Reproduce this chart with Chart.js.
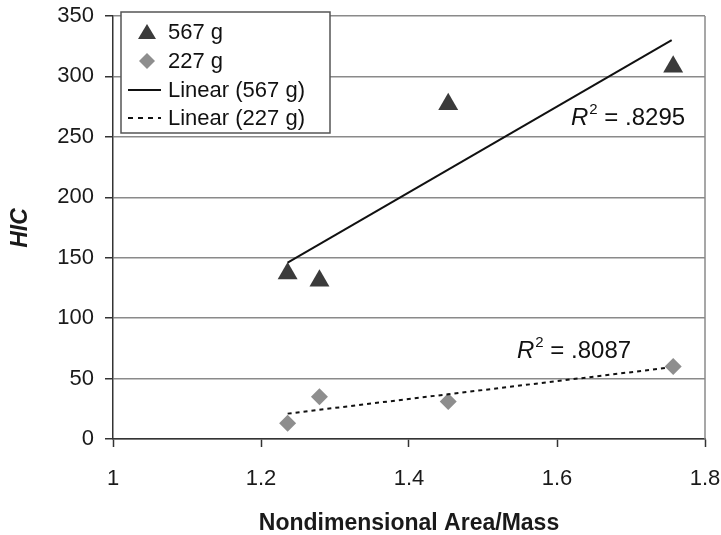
<!DOCTYPE html>
<html>
<head>
<meta charset="utf-8">
<script src="https://cdn.jsdelivr.net/npm/chart.js@4.4.1/dist/chart.umd.min.js"></script>
<style>
  html, body { margin: 0; padding: 0; background: #fff; }
  #wrap { width: 721px; height: 535px; }
</style>
</head>
<body>
<div id="wrap"><canvas id="hicChart" width="721" height="535"></canvas></div>
<script>
'use strict';

// ─── Data ─────────────────────────────────────────────────────────────────────
const X_567   = [1.236, 1.279, 1.453, 1.757];
const HIC_567 = [137, 131, 277, 308];
const X_227   = [1.236, 1.279, 1.453, 1.757];
const HIC_227 = [13, 35, 31, 60];

// trendline end points
const TREND_567_X = [1.236, 1.755];
const TREND_567_Y = [146, 330];
const TREND_227_X = [1.236, 1.750];
const TREND_227_Y = [21, 59];

const R2_567 = '.8295';
const R2_227 = '.8087';

const X_TICKS = [1, 1.2, 1.4, 1.6, 1.8];
const Y_TICKS = [0, 50, 100, 150, 200, 250, 300, 350];

const LEGEND_LABELS = ['567 g', '227 g', 'Linear (567 g)', 'Linear (227 g)'];

// ─── Styles ───────────────────────────────────────────────────────────────────
const FONT  = "'Liberation Sans', Arial, sans-serif";
const DARK  = '#3b3b3b';
const LIGHT = '#8e8e8e';
const GRID  = '#8a8a8a';
const AXIS  = '#333333';

const pts = (xs, ys) => xs.map((x, i) => ({ x, y: ys[i] }));

// no label overflow padding: the plot box is fixed by layout.padding
function noPad(s) {
  s.paddingLeft = 0;
  s.paddingRight = 0;
  s.paddingTop = 0;
  s.paddingBottom = 0;
}

// ─── Overlay: border, legend, R² labels, axis titles ──────────────────────────
const overlay = {
  id: 'overlay',
  afterDraw(chart) {
    const { ctx, chartArea: a } = chart;
    ctx.save();

    // right border
    ctx.strokeStyle = GRID;
    ctx.lineWidth = 1.5;
    ctx.beginPath();
    ctx.moveTo(a.right, a.top);
    ctx.lineTo(a.right, a.bottom);
    ctx.stroke();

    // legend box
    ctx.fillStyle = '#fff';
    ctx.fillRect(121, 12, 209, 121);
    ctx.strokeStyle = '#555';
    ctx.lineWidth = 1.5;
    ctx.strokeRect(121, 12, 209, 121);

    const rows = [32, 61, 90, 118];
    ctx.font = '22px ' + FONT;
    ctx.textBaseline = 'middle';
    ctx.textAlign = 'left';
    LEGEND_LABELS.forEach((label, i) => {
      const y = rows[i];
      if (i === 0) {
        ctx.fillStyle = DARK;
        ctx.beginPath();
        ctx.moveTo(147, y - 8); ctx.lineTo(156, y + 7); ctx.lineTo(138, y + 7);
        ctx.closePath(); ctx.fill();
      } else if (i === 1) {
        ctx.fillStyle = LIGHT;
        ctx.beginPath();
        ctx.moveTo(147, y - 8); ctx.lineTo(155, y); ctx.lineTo(147, y + 8); ctx.lineTo(139, y);
        ctx.closePath(); ctx.fill();
      } else {
        ctx.strokeStyle = '#111';
        ctx.lineWidth = 2;
        ctx.setLineDash(i === 3 ? [5, 5] : []);
        ctx.beginPath();
        ctx.moveTo(128, y); ctx.lineTo(161, y);
        ctx.stroke();
        ctx.setLineDash([]);
      }
      ctx.fillStyle = '#111';
      ctx.fillText(label, 168, y + 1);
    });

    // R² labels
    const r2 = (x, y, val) => {
      ctx.textBaseline = 'alphabetic';
      ctx.fillStyle = '#111';
      ctx.font = 'italic 24px ' + FONT;
      ctx.fillText('R', x, y);
      let w = ctx.measureText('R').width;
      ctx.font = '15px ' + FONT;
      ctx.fillText('2', x + w + 1, y - 11);
      w += ctx.measureText('2').width + 1;
      ctx.font = '24px ' + FONT;
      ctx.fillText(' = ' + val, x + w, y);
    };
    r2(571, 125, R2_567);
    r2(517, 358, R2_227);

    // axis titles
    ctx.fillStyle = '#1a1a1a';
    ctx.textAlign = 'center';
    ctx.textBaseline = 'middle';
    ctx.font = 'bold 23px ' + FONT;
    ctx.fillText('Nondimensional Area/Mass', (a.left + a.right) / 2, 524);
    ctx.translate(21, 228);
    ctx.rotate(-Math.PI / 2);
    ctx.font = 'bold italic 23px ' + FONT;
    ctx.fillText('HIC', 0, 0);

    ctx.restore();
  },
};

// ─── Chart ────────────────────────────────────────────────────────────────────
new Chart(document.getElementById('hicChart').getContext('2d'), {
  type: 'scatter',
  data: {
    datasets: [
      {
        label:           LEGEND_LABELS[2],
        type:            'line',
        data:            pts(TREND_567_X, TREND_567_Y),
        borderColor:     '#111',
        borderWidth:     2,
        pointRadius:     0,
        showLine:        true,
        order:           0,
      },
      {
        label:           LEGEND_LABELS[3],
        type:            'line',
        data:            pts(TREND_227_X, TREND_227_Y),
        borderColor:     '#111',
        borderWidth:     2,
        borderDash:      [4, 4],
        pointRadius:     0,
        showLine:        true,
        order:           0,
      },
      {
        label:           LEGEND_LABELS[0],
        data:            pts(X_567, HIC_567),
        pointStyle:      'triangle',
        pointRadius:     11.5,
        backgroundColor: DARK,
        borderWidth:     0,
        order:           1,
      },
      {
        label:           LEGEND_LABELS[1],
        data:            pts(X_227, HIC_227),
        pointStyle:      'rectRot',
        pointRadius:     8.5,
        backgroundColor: LIGHT,
        borderWidth:     0,
        order:           1,
      },
    ],
  },
  options: {
    responsive:  false,
    animation:   false,
    devicePixelRatio: 1,
    layout: { padding: { left: 0, top: 16, right: 16, bottom: 0 } },
    plugins: {
      legend:  { display: false },
      tooltip: { enabled: false },
    },
    scales: {
      x: {
        type: 'linear',
        min:  1,
        max:  1.8,
        afterBuildTicks: (s) => { s.ticks = X_TICKS.map((v) => ({ value: v })); },
        afterFit: (s) => { s.height = 96; noPad(s); },
        grid:   { drawOnChartArea: false, tickLength: 8, tickColor: AXIS, tickWidth: 1.5 },
        border: { color: AXIS, width: 1.5 },
        ticks:  {
          color: '#1a1a1a',
          font: { family: FONT, size: 22 },
          padding: 19,
          maxRotation: 0,
          callback: (v) => String(v),
        },
      },
      y: {
        min: 0,
        max: 350,
        afterBuildTicks: (s) => { s.ticks = Y_TICKS.map((v) => ({ value: v })); },
        afterFit: (s) => { s.width = 113; noPad(s); },
        grid:   { color: GRID, lineWidth: 1.5, tickLength: 8, tickColor: AXIS, tickWidth: 1.5 },
        border: { color: AXIS, width: 1.5 },
        ticks:  {
          color: '#1a1a1a',
          font: { family: FONT, size: 22 },
          padding: 11,
          callback: (v) => String(v),
        },
      },
    },
  },
  plugins: [overlay],
});
</script>
</body>
</html>
